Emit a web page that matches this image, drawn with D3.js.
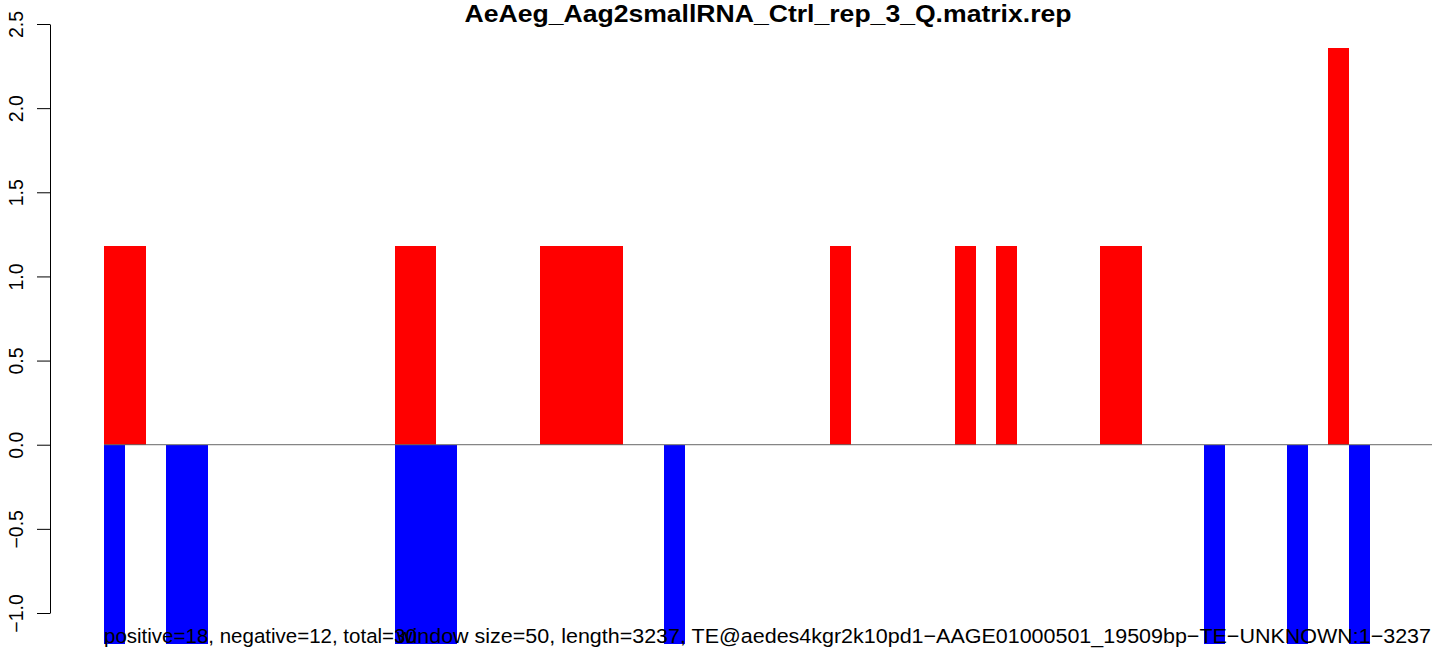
<!DOCTYPE html>
<html>
<head>
<meta charset="utf-8">
<script src="https://cdn.jsdelivr.net/npm/d3@7"></script>
<style>
  html, body { margin: 0; padding: 0; background: #fff; }
  svg { display: block; font-family: "Liberation Sans", Arial, Helvetica, sans-serif; }
</style>
</head>
<body>
<svg id="chart" width="1444" height="656"></svg>
<script>
// ---- data ----
const title = "AeAeg_Aag2smallRNA_Ctrl_rep_3_Q.matrix.rep";
const nBins = 64;
const posBins   = [0, 1, 14, 15, 21, 22, 23, 24, 35, 41, 43, 48, 49, 59];
const posValues = [1.18, 1.18, 1.18, 1.18, 1.18, 1.18, 1.18, 1.18, 1.18, 1.18, 1.18, 1.18, 1.18, 2.36];
const negBins   = [0, 3, 4, 14, 15, 16, 27, 53, 57, 60];
const negValues = [-1.185, -1.185, -1.185, -1.185, -1.185, -1.185, -1.185, -1.185, -1.185, -1.185];
const yTicks = [-1.0, -0.5, 0.0, 0.5, 1.0, 1.5, 2.0, 2.5];
const leftNote = "positive=18, negative=12, total=30";
const rightNote = "window size=50, length=3237, TE@aedes4kgr2k10pd1\u2212AAGE01000501_19509bp\u2212TE\u2212UNKNOWN:1\u22123237";

// ---- layout ----
const svg = d3.select("#chart");
const x = d3.scaleLinear().domain([0, nBins]).range([104, 1432]);
const y = d3.scaleLinear().domain([-1, 2.5]).range([613, 24]);

const pos = posBins.map((b, i) => ({ b, v: posValues[i] }));
const neg = negBins.map((b, i) => ({ b, v: negValues[i] }));
const bw = x(1) - x(0);

// bars
svg.append("g").selectAll("rect").data(pos).join("rect")
  .attr("x", d => x(d.b)).attr("width", bw)
  .attr("y", d => y(d.v)).attr("height", d => y(0) - y(d.v))
  .attr("fill", "#ff0000").attr("shape-rendering", "crispEdges");

svg.append("g").selectAll("rect").data(neg).join("rect")
  .attr("x", d => x(d.b)).attr("width", bw)
  .attr("y", y(0)).attr("height", d => y(d.v) - y(0))
  .attr("fill", "#0000ff").attr("shape-rendering", "crispEdges");

// zero line
svg.append("line")
  .attr("x1", x(0)).attr("x2", x(nBins))
  .attr("y1", y(0)).attr("y2", y(0))
  .attr("stroke", "#666").attr("stroke-width", 1);

// y axis
const yAxis = d3.axisLeft(y).tickValues(yTicks).tickFormat(d3.format(".1f"))
  .tickSize(13).tickSizeOuter(0);
const ga = svg.append("g").attr("transform", "translate(50,0)").call(yAxis);
ga.select(".domain").attr("stroke", "#000");
ga.selectAll(".tick line").attr("stroke", "#000");
ga.selectAll(".tick text")
  .attr("x", null).attr("dy", null)
  .attr("text-anchor", "middle")
  .attr("transform", "translate(-27,0) rotate(-90)")
  .attr("font-size", 19.5).attr("font-family", "Liberation Sans, Arial, sans-serif")
  .attr("fill", "#000");

// title
svg.append("text")
  .attr("x", (x(0) + x(nBins)) / 2).attr("y", 22)
  .attr("text-anchor", "middle")
  .attr("font-weight", "bold").attr("font-size", 24)
  .attr("textLength", 607).attr("lengthAdjust", "spacingAndGlyphs")
  .text(title);

// bottom notes
svg.append("text").attr("x", 104).attr("y", 643)
  .attr("font-size", 20.5).text(leftNote);
svg.append("text").attr("x", 1431).attr("y", 643)
  .attr("text-anchor", "end").attr("font-size", 20.5)
  .attr("textLength", 1034).attr("lengthAdjust", "spacingAndGlyphs")
  .text(rightNote);
</script>
</body>
</html>
